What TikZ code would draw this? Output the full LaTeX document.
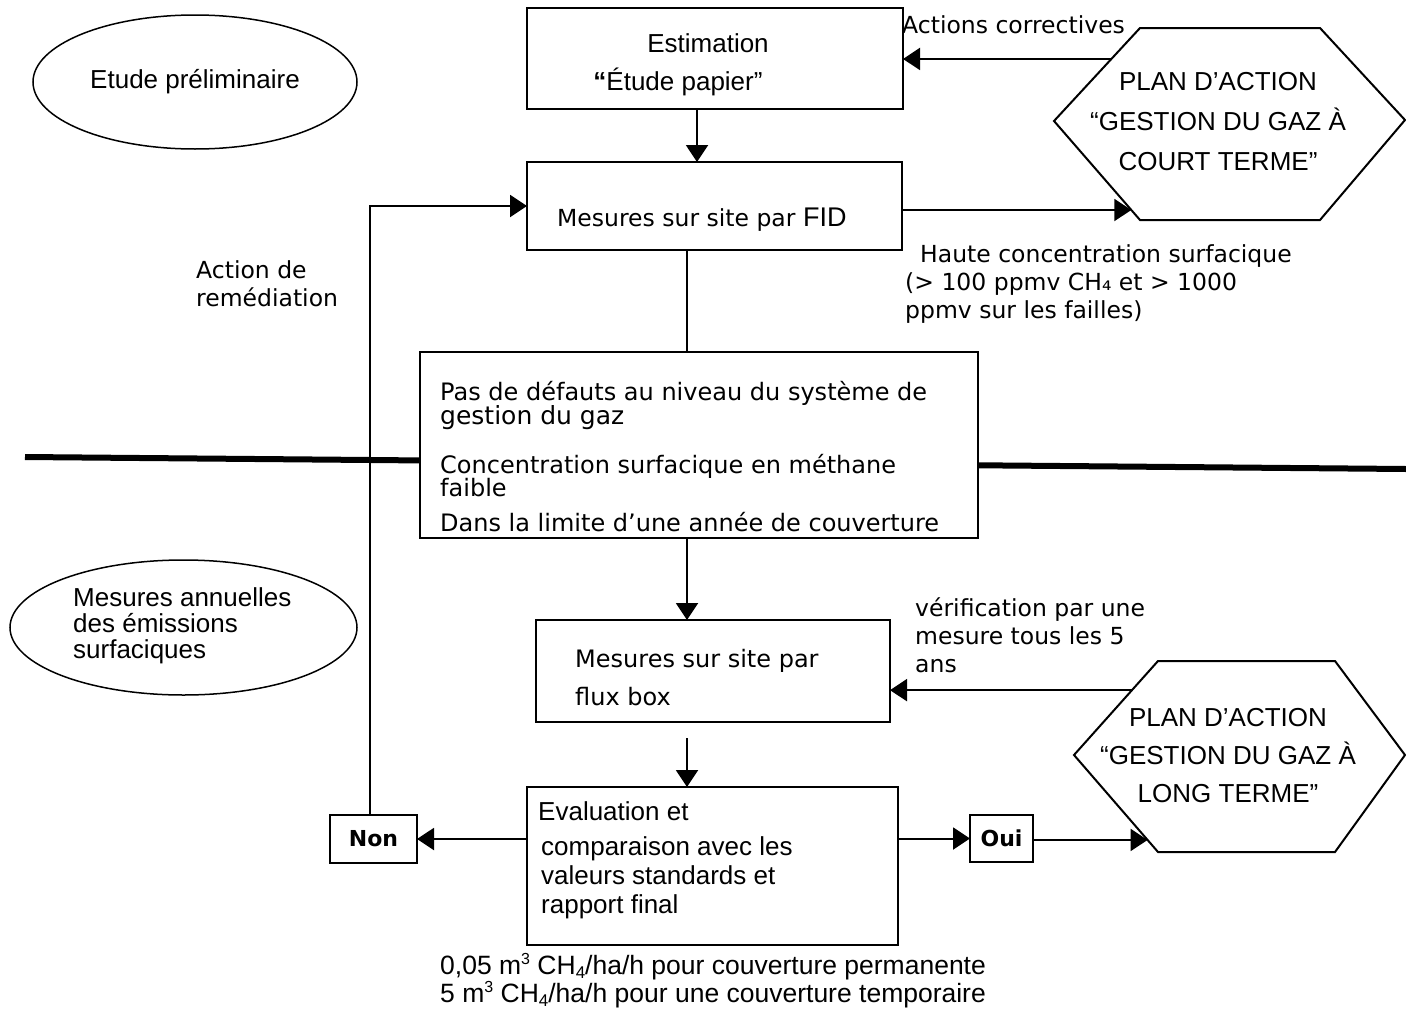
\documentclass[tikz,border=0pt]{standalone}
\usepackage{fontspec}
\setmainfont{Liberation Sans}
\newfontfamily\vfam{DejaVu Sans}
\usetikzlibrary{arrows.meta,calc,shapes.geometric}

\newcommand\arialsz{\fontsize{26}{30}\selectfont}
\newcommand\verdsz{\vfam\fontsize{23.5}{28}\selectfont}
\newcommand\cubic{\raisebox{9.5pt}{\fontsize{16}{16}\selectfont 3}}
\newcommand\subfour{\raisebox{-4pt}{\fontsize{17}{17}\selectfont 4}}

\begin{document}
\begin{tikzpicture}[x=1pt,y=-1pt,
  box/.style={draw,line width=2pt,fill=white,inner sep=0pt,outer sep=0pt},
  oval/.style={draw,line width=1.5pt,ellipse,inner sep=0pt,outer sep=0pt},
  arr/.style={line width=2pt,-{Triangle[length=17pt,width=22pt]}},
  conn/.style={line width=2pt},
  hexline/.style={line width=2pt,line join=miter},
  txa/.style={anchor=base west,inner sep=0pt,font=\arialsz},
  txv/.style={anchor=base west,inner sep=0pt,font=\verdsz},
  txm/.style={anchor=base west,inner sep=0pt,font=\vfam\fontsize{24}{28}\selectfont},
  yesno/.style={box,font=\vfam\bfseries\fontsize{22}{26}\selectfont},
]
\useasboundingbox (0,0) rectangle (1406,1009);

% phase separator
\draw[line width=6pt] (25,457) -- (1406,469);

% phase labels
\node[oval,minimum width=324pt,minimum height=134pt,font=\arialsz] (pre) at (195,82) {Etude préliminaire};
\node[oval,minimum width=347pt,minimum height=135pt] (ann) at (183.5,627.5) {};
\node[txa] (ann1) at (73,606) {Mesures annuelles};
\node[txa] (ann2) at (73,632) {des émissions};
\node[txa] (ann3) at (73,658) {surfaciques};

% process boxes
\node[box,minimum width=376pt,minimum height=101pt] (est) at (715,58.5) {};
\node[anchor=base,inner sep=0pt,font=\arialsz] (est1) at (708,52) {Estimation};
\node[anchor=base,inner sep=0pt,font=\arialsz] (est2) at (678,90) {{\bfseries “}Étude papier”};

\node[box,minimum width=375pt,minimum height=88pt] (fid) at (714.5,206) {};
\node[txv] (fidt) at (557,226) {Mesures sur site par {\rmfamily\fontsize{27}{30}\selectfont FID}};

\node[box,minimum width=558pt,minimum height=186pt] (mid) at (699,445) {};
\node[txm] (mid1) at (440,400) {Pas de défauts au niveau du système de};
\node[txm,font=\vfam\fontsize{25}{28}\selectfont] (mid2) at (440,424) {gestion du gaz};
\node[txm] (mid3) at (440,473) {Concentration surfacique en méthane};
\node[txm] (mid4) at (440,496) {faible};
\node[txm] (mid5) at (440,531) {Dans la limite d’une année de couverture};

\node[box,minimum width=354pt,minimum height=102pt] (flux) at (713,671) {};
\node[txm] (flux1) at (575,667) {Mesures sur site par};
\node[txm] (flux2) at (575,705) {flux box};

\node[box,minimum width=371pt,minimum height=158pt] (eval) at (712.5,866) {};
\node[txa] (ev1) at (538,820) {Evaluation et};
\node[txa] (ev2) at (541,855) {comparaison avec les};
\node[txa] (ev3) at (541,884) {valeurs standards et};
\node[txa] (ev4) at (541,913) {rapport final};

\node[yesno,minimum width=87pt,minimum height=48pt] (non) at (373.5,839) {Non};
\node[yesno,minimum width=63pt,minimum height=47pt] (oui) at (1001.5,838.5) {Oui};

% action plans (hexagons)
\coordinate (h1L) at (1054,121);
\coordinate (h1TL) at (1140,28);
\coordinate (h1TR) at (1320,28);
\coordinate (h1R) at (1405,120);
\coordinate (h1BR) at (1320,220);
\coordinate (h1BL) at (1140,220);
\draw[hexline] (h1L) -- (h1TL) -- (h1TR) -- (h1R) -- (h1BR) -- (h1BL) -- cycle;
\node[align=center,inner sep=0pt,font=\fontsize{26}{40}\selectfont] (plan1) at (1218,122)
  {PLAN D’ACTION\\“GESTION DU GAZ À\\COURT TERME”};

\coordinate (h2L) at (1074,755);
\coordinate (h2TL) at (1158,661);
\coordinate (h2TR) at (1335,661);
\coordinate (h2R) at (1405,755);
\coordinate (h2BR) at (1335,852);
\coordinate (h2BL) at (1158,852);
\draw[hexline] (h2L) -- (h2TL) -- (h2TR) -- (h2R) -- (h2BR) -- (h2BL) -- cycle;
\node[align=center,inner sep=0pt,font=\fontsize{26}{38}\selectfont] (plan2) at (1228,756)
  {PLAN D’ACTION\\“GESTION DU GAZ À\\LONG TERME”};

% attachment points on the hexagon borders
\coordinate (h1in) at ($(h1L)!0.899!(h1BL)$);
\coordinate (h1out) at ($(h1L)!0.667!(h1TL)$);
\coordinate (h2out) at ($(h2L)!0.69!(h2TL)$);
\coordinate (h2in) at ($(h2L)!0.876!(h2BL)$);
\coordinate (cxa) at (697,0);
\coordinate (cxb) at (687,0);

% connectors
\draw[arr] (est.south -| cxa) -- (fid.north -| cxa);
\draw[conn] (fid.south -| cxb) -- (mid.north -| cxb);
\draw[arr] (mid.south -| cxb) -- (flux.north -| cxb);
\draw[arr] ($(flux.south -| cxb)+(0,16)$) -- (eval.north -| cxb);
\draw[arr] (eval.west |- non.east) -- (non.east);
\draw[arr] (eval.east |- oui.west) -- (oui.west);
\draw[arr] (oui.east |- h2in) -- (h2in);
\draw[arr] ($(non.north)+(-4,0)$) |- (fid.west);
\draw[arr] (fid.east |- h1in) -- (h1in);
\draw[arr] (h1out) -- (est.east |- h1out);
\draw[arr] (h2out) -- (flux.east |- h2out);

% connector labels
\node[txv] (corr) at (902,33) {Actions correctives};
\node[txv] (rem1) at (196,278) {Action de};
\node[txv] (rem2) at (196,306) {remédiation};
\node[txv] (hc1) at (920,262) {Haute concentration surfacique};
\node[txv] (hc2) at (905,290) {(> 100 ppmv CH₄ et > 1000};
\node[txv] (hc3) at (905,318) {ppmv sur les failles)};
\node[txv] (ver1) at (915,616) {vérification par une};
\node[txv] (ver2) at (915,644) {mesure tous les 5};
\node[txv] (ver3) at (915,672) {ans};

% limit values
\node[txa,font=\fontsize{26.5}{30}\selectfont] (lim1) at (440,974) {0,05 m\cubic{} CH\subfour/ha/h pour couverture permanente};
\node[txa,font=\fontsize{26.5}{30}\selectfont] (lim2) at (440,1002) {5 m\cubic{} CH\subfour/ha/h pour une couverture temporaire};
\end{tikzpicture}
\end{document}
